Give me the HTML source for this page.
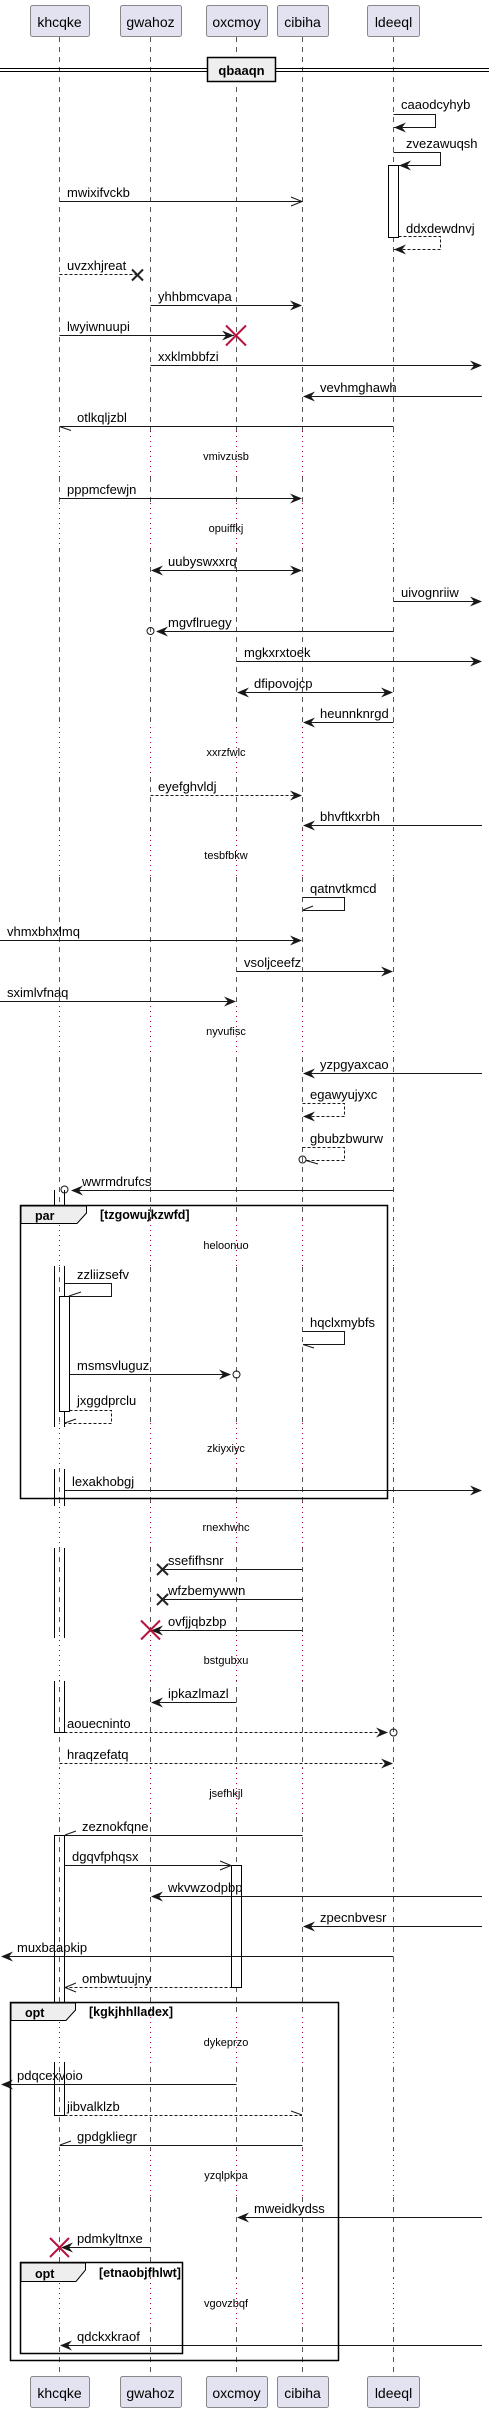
<!DOCTYPE html>
<html><head><meta charset="utf-8"><style>
html,body{margin:0;padding:0;background:#fff;}
svg{display:block;}
text{font-family:"Liberation Sans",sans-serif;fill:#000;}
.m{font-size:13px;}
.d{font-size:11px;}
.p{font-size:14px;}
.b{font-size:12px;font-weight:bold;}
</style></head><body>
<svg width="489" height="2413" viewBox="0 0 489 2413" xmlns="http://www.w3.org/2000/svg">
<defs>
<g id="dl">
<line x1="59.5" x2="59.5" y1="-25" y2="21"/>
<line x1="150.5" x2="150.5" y1="-25" y2="21"/>
<line x1="236.5" x2="236.5" y1="-25" y2="21"/>
<line x1="302.5" x2="302.5" y1="-25" y2="21"/>
<line x1="393.5" x2="393.5" y1="-25" y2="21"/>
</g>
</defs>
<!-- lifelines -->
<g stroke="#555" stroke-width="1" stroke-dasharray="5,5">
<line x1="59.5" x2="59.5" y1="37" y2="2376"/>
<line x1="150.5" x2="150.5" y1="37" y2="2376"/>
<line x1="236.5" x2="236.5" y1="37" y2="2376"/>
<line x1="302.5" x2="302.5" y1="37" y2="2376"/>
<line x1="393.5" x2="393.5" y1="37" y2="2376"/>
</g>
<!-- delays: white over + red dotted -->
<g stroke="#fff" stroke-width="3">
<use href="#dl" y="456"/><use href="#dl" y="528"/><use href="#dl" y="752"/><use href="#dl" y="855"/><use href="#dl" y="1031"/><use href="#dl" y="1245"/><use href="#dl" y="1448"/><use href="#dl" y="1527"/><use href="#dl" y="1660"/><use href="#dl" y="1793"/><use href="#dl" y="2042"/><use href="#dl" y="2175"/><use href="#dl" y="2303"/>
</g>
<g stroke="#b0003a" stroke-width="1" stroke-dasharray="1,4">
<use href="#dl" y="456"/><use href="#dl" y="528"/><use href="#dl" y="752"/><use href="#dl" y="855"/><use href="#dl" y="1031"/><use href="#dl" y="1245"/><use href="#dl" y="1448"/><use href="#dl" y="1527"/><use href="#dl" y="1660"/><use href="#dl" y="1793"/><use href="#dl" y="2042"/><use href="#dl" y="2175"/><use href="#dl" y="2303"/>
</g>
<g class="d" text-anchor="middle">
<text x="226" y="460">vmivzusb</text><text x="226" y="532">opuiffkj</text><text x="226" y="756">xxrzfwlc</text><text x="226" y="859">tesbfbkw</text><text x="226" y="1035">nyvufisc</text><text x="226" y="1249">heloonuo</text><text x="226" y="1452">zkiyxiyc</text><text x="226" y="1531">rnexhwhc</text><text x="226" y="1664">bstgubxu</text><text x="226" y="1797">jsefhkjl</text><text x="226" y="2046">dykeprzo</text><text x="226" y="2179">yzqlpkpa</text><text x="226" y="2307">vgovzbqf</text>
</g>
<!-- participants -->
<g fill="#e2e2f0" stroke="#888" stroke-width="1">
<rect x="30.5" y="5.5" width="59" height="31" rx="2"/><rect x="120.5" y="5.5" width="61" height="31" rx="2"/><rect x="206.5" y="5.5" width="61" height="31" rx="2"/><rect x="277.5" y="5.5" width="51" height="31" rx="2"/><rect x="367.5" y="5.5" width="52" height="31" rx="2"/>
<rect x="30.5" y="2376.5" width="59" height="31" rx="2"/><rect x="120.5" y="2376.5" width="61" height="31" rx="2"/><rect x="206.5" y="2376.5" width="61" height="31" rx="2"/><rect x="277.5" y="2376.5" width="51" height="31" rx="2"/><rect x="367.5" y="2376.5" width="52" height="31" rx="2"/>
</g>
<g class="p" text-anchor="middle">
<text x="59.5" y="27">khcqke</text><text x="150.5" y="27">gwahoz</text><text x="236.5" y="27">oxcmoy</text><text x="302.5" y="27">cibiha</text><text x="393.5" y="27">ldeeql</text>
<text x="59.5" y="2398">khcqke</text><text x="150.5" y="2398">gwahoz</text><text x="236.5" y="2398">oxcmoy</text><text x="302.5" y="2398">cibiha</text><text x="393.5" y="2398">ldeeql</text>
</g>
<!-- divider -->
<g stroke="#000" stroke-width="1">
<line x1="0" x2="489" y1="68.5" y2="68.5"/><line x1="0" x2="489" y1="71.5" y2="71.5"/>
</g>
<rect x="207.5" y="57.5" width="68" height="24" fill="#eee" stroke="#000" stroke-width="1.5"/>
<text class="b" x="241.5" y="75" text-anchor="middle" style="font-size:13px">qbaaqn</text>

<!-- activations -->
<g fill="#fff" stroke="#000" stroke-width="1">
<rect x="388.5" y="165.5" width="10" height="72"/>
<rect x="231.5" y="1865.5" width="10" height="122"/>
</g>
<g stroke="#000" stroke-width="1" fill="none">
<path d="M54.5,1190 V1224 M64.5,1190 V1224"/>
<path d="M54.5,1266 V1427 M64.5,1266 V1427"/>
<path d="M54.5,1469 V1506 M64.5,1469 V1506"/>
<path d="M54.5,1548 V1638 M64.5,1548 V1638"/>
<path d="M54.5,1681 V1732.5 H64.5 V1681"/>
<path d="M54.5,2002 V1835.5 H64.5 V2002"/>
<path d="M54.5,2062 V2115.5 H64.5 V2062"/>
</g>
<rect x="59.5" y="1296.5" width="10" height="115" fill="#fff" stroke="#000"/>

<!-- messages -->
<g stroke="#181818" stroke-width="1" fill="none">
<!-- caaodcyhyb -->
<path d="M393.5,114.5 H435.5 V127.5 H394"/>
<!-- zvezawuqsh -->
<path d="M393.5,152.5 H440.5 V165.5 H399"/>
<!-- mwixifvckb -->
<path d="M59.5,201.5 H302"/><path d="M291,197 L302,201.5 L291,206"/>
<!-- ddxdewdnvj -->
<path d="M398.5,236.5 H440.5 V249.5 H394" stroke-dasharray="3,2"/>
<!-- uvzxhjreat -->
<path d="M59.5,274.5 H137" stroke-dasharray="3,2"/>
<!-- yhhbmcvapa -->
<path d="M150.5,305.5 H300"/>
<!-- lwyiwnuupi -->
<path d="M59.5,335.5 H234"/>
<!-- xxklmbbfzi -->
<path d="M150.5,365.5 H480"/>
<!-- vevhmghawh -->
<path d="M304,396.5 H482"/>
<!-- otlkqljzbl -->
<path d="M59.5,426.5 H393.5"/><path d="M59.5,426.5 L71,430.5"/>
<!-- pppmcfewjn -->
<path d="M59.5,498.5 H300"/>
<!-- uubyswxxrq -->
<path d="M153,570.5 H300"/>
<!-- uivognriiw -->
<path d="M393.5,601.5 H480"/>
<!-- mgvflruegy -->
<path d="M157,631.5 H393.5"/><circle cx="150.5" cy="631" r="3.5"/>
<!-- mgkxrxtoek -->
<path d="M236.5,661.5 H480"/>
<!-- dfipovojcp -->
<path d="M239,692.5 H391"/>
<!-- heunnknrgd -->
<path d="M305,722.5 H393.5"/>
<!-- eyefghvldj -->
<path d="M150.5,795.5 H300" stroke-dasharray="3,2"/>
<!-- bhvftkxrbh -->
<path d="M305,825.5 H482"/>
<!-- qatnvtkmcd -->
<path d="M302.5,897.5 H344.5 V910.5 H303"/><path d="M303,910 L313,906"/>
<!-- vhmxbhxlmq -->
<path d="M0,940.5 H300"/>
<!-- vsoljceefz -->
<path d="M236.5,971.5 H391"/>
<!-- sximlvfnaq -->
<path d="M0,1001.5 H234"/>
<!-- yzpgyaxcao -->
<path d="M305,1073.5 H482"/>
<!-- egawyujyxc -->
<path d="M302.5,1103.5 H344.5 V1116.5 H305" stroke-dasharray="3,2"/>
<!-- gbubzbwurw -->
<path d="M302.5,1147.5 H344.5 V1160.5 H306" stroke-dasharray="3,2"/><circle cx="302.5" cy="1159.5" r="3.5"/><path d="M306,1160.5 L318,1164"/>
<!-- wwrmdrufcs -->
<path d="M72,1190.5 H393.5"/><circle cx="64.5" cy="1189.5" r="3.5"/>
<!-- zzliizsefv -->
<path d="M64.5,1283.5 H111.5 V1296.5 H69"/><path d="M69,1296 L81,1292"/>
<!-- hqclxmybfs -->
<path d="M302.5,1331.5 H344.5 V1344.5 H303"/><path d="M303,1344.5 L314,1348"/>
<!-- msmsvluguz -->
<path d="M69.5,1374.5 H230"/><circle cx="236.5" cy="1374.5" r="3.5"/>
<!-- jxggdprclu -->
<path d="M69.5,1410.5 H111.5 V1423.5 H65" stroke-dasharray="3,2"/><path d="M65,1423 L76,1419"/>
<!-- lexakhobgj -->
<path d="M64.5,1490.5 H480"/>
<!-- ssefifhsnr -->
<path d="M164,1569.5 H302.5"/>
<!-- wfzbemywwn -->
<path d="M164,1599.5 H302.5"/>
<!-- ovfjjqbzbp -->
<path d="M153,1630.5 H302.5"/>
<!-- ipkazlmazl -->
<path d="M153,1702.5 H236.5"/>
<!-- aouecninto -->
<path d="M64.5,1732.5 H385" stroke-dasharray="3,2"/><circle cx="393.5" cy="1732.5" r="3.5"/>
<!-- hraqzefatq -->
<path d="M59.5,1763.5 H391" stroke-dasharray="3,2"/>
<!-- zeznokfqne -->
<path d="M64.5,1835.5 H302.5"/><path d="M65,1835 L76,1831"/>
<!-- dgqvfphqsx -->
<path d="M64.5,1865.5 H231"/><path d="M220,1861 L231,1865.5 L220,1870"/>
<!-- wkvwzodpbp -->
<path d="M153,1896.5 H482"/>
<!-- zpecnbvesr -->
<path d="M305,1926.5 H482"/>
<!-- muxbaapkip -->
<path d="M2,1956.5 H393.5"/>
<!-- ombwtuujny -->
<path d="M64.5,1987.5 H231" stroke-dasharray="3,2"/><path d="M76,1983 L65,1987.5 L76,1992"/>
<!-- pdqcexvoio -->
<path d="M2,2084.5 H236.5"/>
<!-- jibvalklzb -->
<path d="M64.5,2115.5 H302" stroke-dasharray="3,2"/><path d="M302,2115 L291,2111"/>
<!-- gpdgkliegr -->
<path d="M59.5,2145.5 H302.5"/><path d="M60,2145 L71,2141"/>
<!-- mweidkydss -->
<path d="M239,2217.5 H482"/>
<!-- pdmkyltnxe -->
<path d="M62,2247.5 H150.5"/>
<!-- qdckxkraof -->
<path d="M62,2345.5 H482"/>
</g>
<!-- filled arrowheads -->
<g fill="#181818">
<path d="M394,127.5 l12,-5 l-4,5 l4,5 z"/>
<path d="M399,165.5 l12,-5 l-4,5 l4,5 z"/>
<path d="M394,249.5 l12,-5 l-4,5 l4,5 z"/>
<path d="M302,305.5 l-12,-5 l4,5 l-4,5 z"/>
<path d="M234,335.5 l-12,-5 l4,5 l-4,5 z"/>
<path d="M482,365.5 l-12,-5 l4,5 l-4,5 z"/>
<path d="M303,396.5 l12,-5 l-4,5 l4,5 z"/>
<path d="M302,498.5 l-12,-5 l4,5 l-4,5 z"/>
<path d="M151,570.5 l12,-5 l-4,5 l4,5 z"/>
<path d="M302,570.5 l-12,-5 l4,5 l-4,5 z"/>
<path d="M482,601.5 l-12,-5 l4,5 l-4,5 z"/>
<path d="M156,631.5 l12,-5 l-4,5 l4,5 z"/>
<path d="M482,661.5 l-12,-5 l4,5 l-4,5 z"/>
<path d="M237,692.5 l12,-5 l-4,5 l4,5 z"/>
<path d="M393,692.5 l-12,-5 l4,5 l-4,5 z"/>
<path d="M303,722.5 l12,-5 l-4,5 l4,5 z"/>
<path d="M302,795.5 l-12,-5 l4,5 l-4,5 z"/>
<path d="M303,825.5 l12,-5 l-4,5 l4,5 z"/>
<path d="M302,940.5 l-12,-5 l4,5 l-4,5 z"/>
<path d="M393,971.5 l-12,-5 l4,5 l-4,5 z"/>
<path d="M236,1001.5 l-12,-5 l4,5 l-4,5 z"/>
<path d="M303,1073.5 l12,-5 l-4,5 l4,5 z"/>
<path d="M303,1116.5 l12,-5 l-4,5 l4,5 z"/>
<path d="M71,1190.5 l12,-5 l-4,5 l4,5 z"/>
<path d="M231,1374.5 l-12,-5 l4,5 l-4,5 z"/>
<path d="M482,1490.5 l-12,-5 l4,5 l-4,5 z"/>
<path d="M151,1630.5 l12,-5 l-4,5 l4,5 z"/>
<path d="M151,1702.5 l12,-5 l-4,5 l4,5 z"/>
<path d="M388,1732.5 l-12,-5 l4,5 l-4,5 z"/>
<path d="M393,1763.5 l-12,-5 l4,5 l-4,5 z"/>
<path d="M151,1896.5 l12,-5 l-4,5 l4,5 z"/>
<path d="M303,1926.5 l12,-5 l-4,5 l4,5 z"/>
<path d="M1,1956.5 l12,-5 l-4,5 l4,5 z"/>
<path d="M1,2084.5 l12,-5 l-4,5 l4,5 z"/>
<path d="M237,2217.5 l12,-5 l-4,5 l4,5 z"/>
<path d="M61,2247.5 l12,-5 l-4,5 l4,5 z"/>
<path d="M60,2345.5 l12,-5 l-4,5 l4,5 z"/>
</g>
<!-- X marks -->
<g stroke="#222" stroke-width="2">
<path d="M132,269.5 l11,11 M143,269.5 l-11,11"/>
<path d="M157,1564 l11,11 M168,1564 l-11,11"/>
<path d="M157,1594 l11,11 M168,1594 l-11,11"/>
</g>
<g stroke="#b8123e" stroke-width="2">
<path d="M226,325.5 l20,20 M246,325.5 l-20,20"/>
<path d="M141,1620.5 l19,19 M160,1620.5 l-19,19"/>
<path d="M50,2238 l19,19 M69,2238 l-19,19"/>
</g>

<!-- frames -->
<g fill="none" stroke="#000" stroke-width="1.5">
<rect x="20.5" y="1205.5" width="367" height="293"/>
<rect x="10.5" y="2002.5" width="328" height="358"/>
<rect x="20.5" y="2262.5" width="162" height="91"/>
</g>
<g fill="#eee" stroke="#000" stroke-width="1">
<path d="M21,1206 H86.5 V1213 L77,1223.5 H21 Z"/>
<path d="M11,2003 H75.5 V2010 L66,2020.5 H11 Z"/>
<path d="M21,2263 H85.5 V2270 L76,2281.5 H21 Z"/>
</g>
<g class="b" style="font-size:12.5px">
<text x="35" y="1220">par</text><text x="100" y="1219">[tzgowujkzwfd]</text>
<text x="25" y="2017">opt</text><text x="89" y="2016">[kgkjhhlladex]</text>
<text x="35" y="2278">opt</text><text x="99" y="2277">[etnaobjfhlwt]</text>
</g>

<!-- labels -->
<g class="m">
<text x="401" y="109">caaodcyhyb</text>
<text x="406" y="148">zvezawuqsh</text>
<text x="67" y="197">mwixifvckb</text>
<text x="406" y="233">ddxdewdnvj</text>
<text x="67" y="270">uvzxhjreat</text>
<text x="158" y="301">yhhbmcvapa</text>
<text x="67" y="331">lwyiwnuupi</text>
<text x="158" y="361">xxklmbbfzi</text>
<text x="320" y="392">vevhmghawh</text>
<text x="77" y="422">otlkqljzbl</text>
<text x="67" y="494">pppmcfewjn</text>
<text x="168" y="566">uubyswxxrq</text>
<text x="401" y="597">uivognriiw</text>
<text x="168" y="627">mgvflruegy</text>
<text x="244" y="657">mgkxrxtoek</text>
<text x="254" y="688">dfipovojcp</text>
<text x="320" y="718">heunnknrgd</text>
<text x="158" y="791">eyefghvldj</text>
<text x="320" y="821">bhvftkxrbh</text>
<text x="310" y="893">qatnvtkmcd</text>
<text x="7" y="936">vhmxbhxlmq</text>
<text x="244" y="967">vsoljceefz</text>
<text x="7" y="997">sximlvfnaq</text>
<text x="320" y="1069">yzpgyaxcao</text>
<text x="310" y="1099">egawyujyxc</text>
<text x="310" y="1143">gbubzbwurw</text>
<text x="82" y="1186">wwrmdrufcs</text>
<text x="77" y="1279">zzliizsefv</text>
<text x="310" y="1327">hqclxmybfs</text>
<text x="77" y="1370">msmsvluguz</text>
<text x="77" y="1405">jxggdprclu</text>
<text x="72" y="1486">lexakhobgj</text>
<text x="168" y="1565">ssefifhsnr</text>
<text x="168" y="1595">wfzbemywwn</text>
<text x="168" y="1626">ovfjjqbzbp</text>
<text x="168" y="1698">ipkazlmazl</text>
<text x="67" y="1728">aouecninto</text>
<text x="67" y="1759">hraqzefatq</text>
<text x="82" y="1831">zeznokfqne</text>
<text x="72" y="1861">dgqvfphqsx</text>
<text x="168" y="1892">wkvwzodpbp</text>
<text x="320" y="1922">zpecnbvesr</text>
<text x="17" y="1952">muxbaapkip</text>
<text x="82" y="1983">ombwtuujny</text>
<text x="17" y="2080">pdqcexvoio</text>
<text x="67" y="2111">jibvalklzb</text>
<text x="77" y="2141">gpdgkliegr</text>
<text x="254" y="2213">mweidkydss</text>
<text x="77" y="2243">pdmkyltnxe</text>
<text x="77" y="2341">qdckxkraof</text>
</g>
</svg>
</body></html>
